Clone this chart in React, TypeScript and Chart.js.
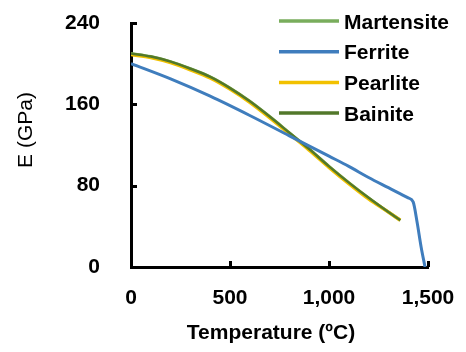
import React, { useEffect, useRef } from 'react';
import { Chart, registerables } from 'chart.js';

Chart.register(...registerables);

// Young's modulus vs temperature for steel phases
const phaseTemps = [0, 100, 200, 300, 400, 500, 600, 700, 800, 900, 1000, 1100, 1200, 1300, 1360];
const martensiteE = [210, 207, 202, 195, 187, 176, 163, 148, 132, 116, 99, 83, 68, 54, 46];
const pearliteE = [209, 206, 201, 194, 186, 175, 162, 147, 131, 115, 98, 82, 67, 54, 46];
const bainiteE = [210, 207, 202, 195, 187, 176, 163, 148, 132, 116, 99, 83, 68, 54, 46];

const ferriteTemps = [0, 200, 400, 600, 800, 1000, 1100, 1200, 1300, 1400, 1425, 1445, 1465, 1485];
const ferriteE = [200, 185, 168, 149, 129, 109, 99, 88, 78, 68, 64, 44, 20, 0];

const seriesNames = ['Martensite', 'Ferrite', 'Pearlite', 'Bainite'];
const seriesColors = ['#79ad5c', '#3f7dbd', '#f2c100', '#52782a'];

const xMin = 0;
const xMax = 1500;
const xStep = 500;
const yMin = 0;
const yMax = 240;
const yStep = 80;

const xTitle = 'Temperature (ºC)';
const yTitle = 'E (GPa)';

const FONT = '"Liberation Sans", Arial, sans-serif';

const toPoints = (xs: number[], ys: number[]) => xs.map((x, i) => ({ x, y: ys[i] }));

// Short tick marks pointing into the plot area
const inwardTicks = {
  id: 'inwardTicks',
  afterDraw(chart: any) {
    const { ctx, chartArea, scales } = chart;
    ctx.save();
    ctx.strokeStyle = '#000';
    ctx.lineWidth = 3;
    scales.x.ticks.forEach((t: any) => {
      const px = Math.round(scales.x.getPixelForValue(t.value)) + 0.5;
      ctx.beginPath();
      ctx.moveTo(px, chartArea.bottom);
      ctx.lineTo(px, chartArea.bottom - 6);
      ctx.stroke();
    });
    scales.y.ticks.forEach((t: any) => {
      const py = Math.round(scales.y.getPixelForValue(t.value)) + 0.5;
      ctx.beginPath();
      ctx.moveTo(chartArea.left, py);
      ctx.lineTo(chartArea.left + 6, py);
      ctx.stroke();
    });
    ctx.restore();
  },
};

// Legend drawn inside the plot, top right
const insetLegend = {
  id: 'insetLegend',
  afterDraw(chart: any) {
    const { ctx } = chart;
    ctx.save();
    ctx.font = `bold 21px ${FONT}`;
    ctx.textAlign = 'left';
    ctx.textBaseline = 'alphabetic';
    chart.data.datasets.forEach((ds: any, i: number) => {
      const cy = 21 + i * 30.7;
      ctx.strokeStyle = ds.borderColor;
      ctx.lineWidth = 3.5;
      ctx.beginPath();
      ctx.moveTo(279, cy);
      ctx.lineTo(339, cy);
      ctx.stroke();
      ctx.fillStyle = '#000';
      ctx.fillText(ds.label, 344, cy + 7.5);
    });
    ctx.restore();
  },
};

// Axis titles
const axisTitles = {
  id: 'axisTitles',
  afterDraw(chart: any) {
    const { ctx } = chart;
    ctx.save();
    ctx.fillStyle = '#000';
    ctx.font = `bold 21px ${FONT}`;
    ctx.textAlign = 'center';
    ctx.textBaseline = 'alphabetic';
    ctx.fillText(xTitle, 271, 338.5);
    ctx.translate(31.5, 130);
    ctx.rotate(-Math.PI / 2);
    ctx.font = `21px ${FONT}`;
    ctx.fillText(yTitle, 0, 0);
    ctx.restore();
  },
};

export default function App() {
  const canvasRef = useRef<HTMLCanvasElement | null>(null);

  useEffect(() => {
    if (!canvasRef.current) return;
    const lineDs = (name: string, color: string, data: any[], order: number, width = 3) => ({
      label: name,
      data,
      borderColor: color,
      backgroundColor: color,
      borderWidth: width,
      pointRadius: 0,
      fill: false,
      cubicInterpolationMode: 'monotone' as const,
      order,
    });
    const chart = new Chart(canvasRef.current, {
      type: 'line',
      data: {
        datasets: [
          lineDs(seriesNames[0], seriesColors[0], toPoints(phaseTemps, martensiteE), 3),
          lineDs(seriesNames[1], seriesColors[1], toPoints(ferriteTemps, ferriteE), 0),
          lineDs(seriesNames[2], seriesColors[2], toPoints(phaseTemps, pearliteE), 2, 3.5),
          lineDs(seriesNames[3], seriesColors[3], toPoints(phaseTemps, bainiteE), 1, 2.5),
        ],
      },
      options: {
        animation: false,
        responsive: true,
        maintainAspectRatio: false,
        layout: { padding: { left: 0, top: 23, right: 38, bottom: 0 } },
        plugins: {
          legend: { display: false },
          tooltip: { enabled: false },
          title: { display: false },
        },
        scales: {
          x: {
            type: 'linear',
            min: xMin,
            max: xMax,
            grid: { display: false, drawTicks: false },
            border: { display: true, color: '#000', width: 3 },
            ticks: {
              stepSize: xStep,
              color: '#000',
              padding: 19,
              font: { family: FONT, size: 21, weight: 'bold' },
            },
            afterFit: (scale: any) => {
              scale.height = 85;
              scale.paddingLeft = 0;
              scale.paddingRight = 0;
            },
          },
          y: {
            type: 'linear',
            min: yMin,
            max: yMax,
            grid: { display: false, drawTicks: false },
            border: { display: true, color: '#000', width: 3 },
            ticks: {
              stepSize: yStep,
              color: '#000',
              padding: 31,
              font: { family: FONT, size: 21, weight: 'bold' },
            },
            afterFit: (scale: any) => {
              scale.width = 131;
              scale.paddingTop = 0;
              scale.paddingBottom = 0;
            },
          },
        },
      },
      plugins: [inwardTicks, insetLegend, axisTitles],
    });
    return () => chart.destroy();
  }, []);

  return (
    <div style={{ position: 'fixed', left: 0, top: 0, width: 466, height: 352, background: '#fff' }}>
      <canvas ref={canvasRef} />
    </div>
  );
}
